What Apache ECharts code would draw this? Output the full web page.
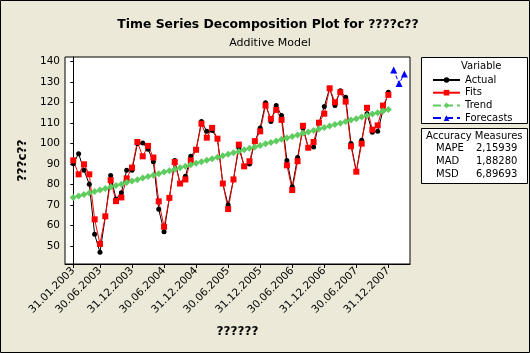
<!DOCTYPE html>
<html>
<head>
<meta charset="utf-8">
<script src="https://cdn.jsdelivr.net/npm/echarts@6/dist/echarts.min.js"></script>
<style>
  html, body { margin: 0; padding: 0; background: #ece9d8; }
  #main { width: 530px; height: 353px; }
</style>
</head>
<body>
<div id="main"></div>
<script>
// 月份序号 0 = 31.01.2003
var actual = [90.2, 95.1, 87.0, 80.2, 55.7, 46.9, 64.3, 84.4, 73.0, 76.0, 87.0, 87.0,
              100.0, 100.3, 97.3, 91.2, 67.9, 57.0, 73.5, 91.8, 80.5, 84.0, 93.8, 97.0,
              110.8, 106.0, 106.4, 102.4, 80.5, 70.0, 82.5, 98.0, 89.0, 90.0, 101.0, 107.6,
              119.9, 110.8, 118.6, 113.7, 91.8, 78.9, 93.2, 107.6, 98.0, 98.3, 110.2, 118.1,
              127.0, 118.6, 125.8, 122.6, 100.0, 86.3, 101.6, 114.6, 105.6, 106.0, 116.2, 125.1];
var fits = [91.8, 85.0, 89.9, 85.0, 63.0, 51.0, 64.5, 82.1, 71.9, 73.7, 83.0, 88.3,
            100.8, 93.8, 98.9, 93.2, 71.8, 59.4, 73.5, 91.0, 80.5, 82.5, 91.8, 97.0,
            109.7, 102.9, 107.7, 102.4, 80.5, 68.0, 82.5, 99.5, 88.9, 91.4, 101.2, 106.0,
            118.6, 112.1, 116.5, 111.6, 89.4, 77.3, 91.4, 108.7, 98.0, 100.8, 110.2, 114.6,
            127.0, 120.2, 125.1, 120.5, 98.7, 86.3, 100.0, 117.5, 106.8, 108.9, 118.6, 123.8];
var trend = [73.7, 74.4, 75.2, 75.9, 76.6, 77.3, 78.1, 78.8, 79.5, 80.2, 81.0, 81.7,
             82.4, 83.2, 83.9, 84.6, 85.3, 86.1, 86.8, 87.5, 88.2, 89.0, 89.7, 90.4,
             91.1, 91.9, 92.6, 93.3, 94.1, 94.8, 95.5, 96.2, 97.0, 97.7, 98.4, 99.1,
             99.9, 100.6, 101.3, 102.1, 102.8, 103.5, 104.2, 105.0, 105.7, 106.4, 107.1, 107.9,
             108.6, 109.3, 110.0, 110.8, 111.5, 112.2, 113.0, 113.7, 114.4, 115.1, 115.9, 116.6];
var forecasts = [136.0, 129.3, 134.0];
var forecastStart = 60;

var tickIdx = [0, 5, 11, 17, 23, 29, 35, 41, 47, 53, 59];
var tickLabels = ['31.01.2003', '30.06.2003', '31.12.2003', '30.06.2004', '31.12.2004', '30.06.2005',
                  '31.12.2005', '30.06.2006', '31.12.2006', '30.06.2007', '31.12.2007'];
var yTicks = [50, 60, 70, 80, 90, 100, 110, 120, 130, 140];

var measureNames = ['MAPE', 'MAD', 'MSD'];
var measureValues = ['2,15939', '1,88280', '6,89693'];

function toPairs(arr, start) {
    return arr.map(function(v, i) { return [i + start, v]; });
}

var FONT = 'DejaVu Sans';
var chart = echarts.init(document.getElementById('main'));

// 准确度度量文字
var measureText = [];
measureNames.forEach(function(n, i) {
    measureText.push({ type: 'text', left: 436, top: 143 + i * 13,
        style: { text: n, font: '10px ' + FONT, fill: '#000' } });
    measureText.push({ type: 'text', left: 476, top: 143 + i * 13,
        style: { text: measureValues[i], font: '10px ' + FONT, fill: '#000' } });
});

chart.setOption({
    animation: false,
    backgroundColor: '#ece9d8',
    title: [{
        text: 'Time Series Decomposition Plot for ????c??',
        left: 263, top: 14, textAlign: 'center',
        textStyle: { fontFamily: FONT, fontSize: 12.4, fontWeight: 'bold', color: '#000' }
    }, {
        text: 'Additive Model',
        left: 265, top: 33, textAlign: 'center',
        textStyle: { fontFamily: FONT, fontSize: 11, fontWeight: 'normal', color: '#000' }
    }],
    grid: {
        left: 65, top: 57, width: 345, height: 207,
        show: true, backgroundColor: '#fff', borderColor: '#000', borderWidth: 1
    },
    legend: {
        orient: 'vertical', left: 427, top: 69,
        itemWidth: 27, itemHeight: 7, itemGap: 0.7,
        textStyle: { fontFamily: FONT, fontSize: 10, color: '#000', lineHeight: 12 },
        data: ['Actual', 'Fits', 'Trend', 'Forecasts']
    },
    xAxis: {
        type: 'value', min: -1.55, max: 63.05,
        name: '??????', nameLocation: 'middle', nameGap: 62,
        nameTextStyle: { fontFamily: FONT, fontSize: 12, fontWeight: 'bold', color: '#000' },
        axisLine: { lineStyle: { color: '#000' } },
        axisTick: { length: 4, lineStyle: { color: '#000' }, customValues: tickIdx },
        splitLine: { show: false },
        axisLabel: {
            rotate: 45, margin: 5, fontFamily: FONT, fontSize: 10.5, color: '#000',
            customValues: tickIdx,
            formatter: function(v) { return tickLabels[tickIdx.indexOf(Math.round(v))]; }
        }
    },
    yAxis: {
        type: 'value', min: 41.2, max: 142.3,
        name: '???c??', nameLocation: 'middle', nameGap: 36,
        nameTextStyle: { fontFamily: FONT, fontSize: 12, fontWeight: 'bold', color: '#000' },
        axisLine: { show: true, lineStyle: { color: '#000' } },
        axisTick: { show: true, length: 3, lineStyle: { color: '#000' }, customValues: yTicks },
        splitLine: { show: false },
        axisLabel: { margin: 5, fontFamily: FONT, fontSize: 10.5, color: '#000', customValues: yTicks }
    },
    series: [{
        name: 'Actual', type: 'line', data: toPairs(actual, 0),
        symbol: 'circle', symbolSize: 5, color: '#000',
        lineStyle: { width: 1, color: '#000' }
    }, {
        name: 'Fits', type: 'line', data: toPairs(fits, 0),
        symbol: 'rect', symbolSize: 6, color: '#ff0000',
        lineStyle: { width: 1, color: '#ff0000' }
    }, {
        name: 'Trend', type: 'line', data: toPairs(trend, 0),
        symbol: 'diamond', symbolSize: 7, color: '#5fcc5f',
        lineStyle: { width: 1, color: '#5fcc5f', type: 'dashed' }
    }, {
        name: 'Forecasts', type: 'line', data: toPairs(forecasts, forecastStart),
        symbol: 'triangle', symbolSize: 7, color: '#0000ff',
        lineStyle: { width: 1, color: '#0000ff', type: 'dashed' }
    }],
    graphic: [{
        type: 'rect', shape: { x: 0.5, y: 0.5, width: 529, height: 352 },
        style: { fill: 'none', stroke: '#000', lineWidth: 1 }, silent: true
    }, {
        type: 'rect', shape: { x: 421.5, y: 57.5, width: 106, height: 66 },
        style: { fill: '#fff', stroke: '#000', lineWidth: 1 }, z: -1, silent: true
    }, {
        type: 'rect', shape: { x: 421.5, y: 128.5, width: 106, height: 55 },
        style: { fill: '#fff', stroke: '#000', lineWidth: 1 }, silent: true
    }, {
        type: 'text', left: 461, top: 61,
        style: { text: 'Variable', font: '10px ' + FONT, fill: '#000' }
    }, {
        type: 'text', left: 426, top: 131,
        style: { text: 'Accuracy Measures', font: '10px ' + FONT, fill: '#000' }
    }].concat(measureText)
});
</script>
</body>
</html>
